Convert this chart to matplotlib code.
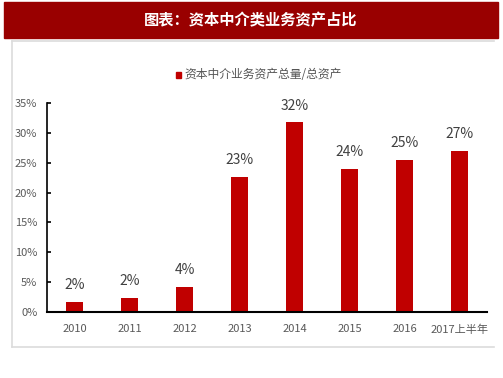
import matplotlib.pyplot as plt
import matplotlib.patches as patches
from matplotlib.lines import Line2D
from matplotlib.ticker import PercentFormatter

plt.rcParams['font.family'] = ['Liberation Sans Narrow', 'Noto Sans CJK SC', 'DejaVu Sans']

# data
years = ['2010', '2011', '2012', '2013', '2014', '2015', '2016', '2017上半年']
ratio = [1.6, 2.3, 4.2, 22.7, 31.8, 24.0, 25.5, 27.0]
labels = ['2%', '2%', '4%', '23%', '32%', '24%', '25%', '27%']
yticks = [0, 5, 10, 15, 20, 25, 30, 35]

title = '图表：资本中介类业务资产占比'
series_name = '资本中介业务资产总量/总资产'

W, H = 503, 378
fig = plt.figure(figsize=(W / 100, H / 100), dpi=100)

# red header banner
fig.patches.append(patches.Rectangle((4 / W, 1 - 38 / H), 494 / W, 36 / H,
                                     transform=fig.transFigure, color='#990000', zorder=0))
fig.text(251 / W, 1 - 20 / H, title, color='white', fontsize=11, fontweight='bold',
         ha='center', va='center', family=['Noto Sans CJK SC', 'DejaVu Sans'])

# light grey frame (top, left, bottom only)
for xs, ys in [([12, 494], [40.5, 40.5]), ([12, 12], [40.5, 347]), ([12, 494], [347, 347])]:
    fig.lines.append(Line2D([v / W for v in xs], [1 - v / H for v in ys],
                            transform=fig.transFigure, color='#dcdcdc', linewidth=1.2))

ax = fig.add_axes([47 / W, 1 - 311.7 / H, 440 / W, 208.4 / H])
x = range(len(years))
ax.bar(x, ratio, width=0.31, color='#C00000')

for i, (v, lab) in enumerate(zip(ratio, labels)):
    ax.annotate(lab, (i, v), xytext=(0, 7), textcoords='offset points',
                ha='center', va='bottom', fontsize=10, color='#404040')

ax.set_xlim(-0.5, 7.5)
ax.set_ylim(0, 35)
ax.set_yticks(yticks)
ax.yaxis.set_major_formatter(PercentFormatter(decimals=0))
ax.set_xticks(list(x))
ax.set_xticklabels(years)

for s in ['top', 'right']:
    ax.spines[s].set_visible(False)
ax.spines['left'].set_linewidth(1.2)
ax.spines['bottom'].set_linewidth(1.5)
ax.tick_params(axis='y', direction='in', length=3, width=1.2, pad=7,
               labelsize=8, labelcolor='#595959')
ax.tick_params(axis='x', length=0, pad=9, labelsize=8, labelcolor='#595959')

# legend drawn at top centre
fig.patches.append(patches.Rectangle((176 / W, 1 - 77.5 / H), 5 / W, 5 / H,
                                     transform=fig.transFigure, color='#C00000'))
fig.text(184 / W, 1 - 75 / H, series_name, fontsize=8.5, color='#555555',
         ha='left', va='center', family=['Noto Sans CJK SC', 'DejaVu Sans'])

fig.savefig('out.png', dpi=100)
